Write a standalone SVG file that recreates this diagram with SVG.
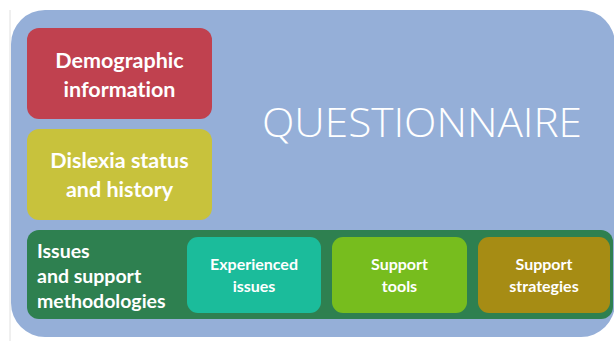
<svg xmlns="http://www.w3.org/2000/svg" width="614" height="341" viewBox="0 0 614 341">
<style>
text{font-variant-ligatures:none}
.bt{font-family:Lato,"Open Sans","Liberation Sans",sans-serif;font-weight:bold;fill:#ffffff;text-anchor:middle}
.big{font-size:21.5px}
.sm{font-size:16px}
.lt{font-family:Lato,"Open Sans","Liberation Sans",sans-serif;font-weight:bold;font-size:19.5px;fill:#ffffff}
</style>
<rect x="0" y="0" width="614" height="341" fill="#ffffff"/>
<line x1="10" y1="10" x2="10" y2="341" stroke="#e0e0e0" stroke-width="1"/>
<g id="questionnaire">
<rect x="11" y="10" width="604" height="327" rx="34" fill="#95afd8"/>
<text x="422" y="137" font-family="'Open Sans','Liberation Sans',sans-serif" font-weight="300" font-size="40" fill="#ffffff" text-anchor="middle" textLength="320" lengthAdjust="spacingAndGlyphs">QUESTIONNAIRE</text>
</g>
<g id="demographic">
<rect x="27" y="28" width="185" height="91" rx="12" fill="#c0414f"/>
<text class="bt big" x="119.5" y="68">Demographic</text>
<text class="bt big" x="119.5" y="97">information</text>
</g>
<g id="dislexia">
<rect x="27" y="129" width="185" height="91" rx="12" fill="#c8c23c"/>
<text class="bt big" x="119.5" y="168">Dislexia status</text>
<text class="bt big" x="119.5" y="197">and history</text>
</g>
<g id="issues">
<rect x="27" y="230" width="586" height="89" rx="12" fill="#2e8050"/>
<text class="lt" x="37" y="258">Issues</text>
<text class="lt" x="37" y="283">and support</text>
<text class="lt" x="37" y="308">methodologies</text>
</g>
<g id="experienced">
<rect x="187" y="237" width="134" height="76" rx="11" fill="#1bbc9b"/>
<text class="bt sm" x="254" y="270">Experienced</text>
<text class="bt sm" x="254" y="292">issues</text>
</g>
<g id="tools">
<rect x="332" y="237" width="135" height="76" rx="11" fill="#77bd1e"/>
<text class="bt sm" x="399.5" y="270">Support</text>
<text class="bt sm" x="399.5" y="292">tools</text>
</g>
<g id="strategies">
<rect x="478" y="237" width="132" height="76" rx="11" fill="#a68c14"/>
<text class="bt sm" x="544" y="270">Support</text>
<text class="bt sm" x="544" y="292">strategies</text>
</g>
<g id="connectors"></g>
</svg>
